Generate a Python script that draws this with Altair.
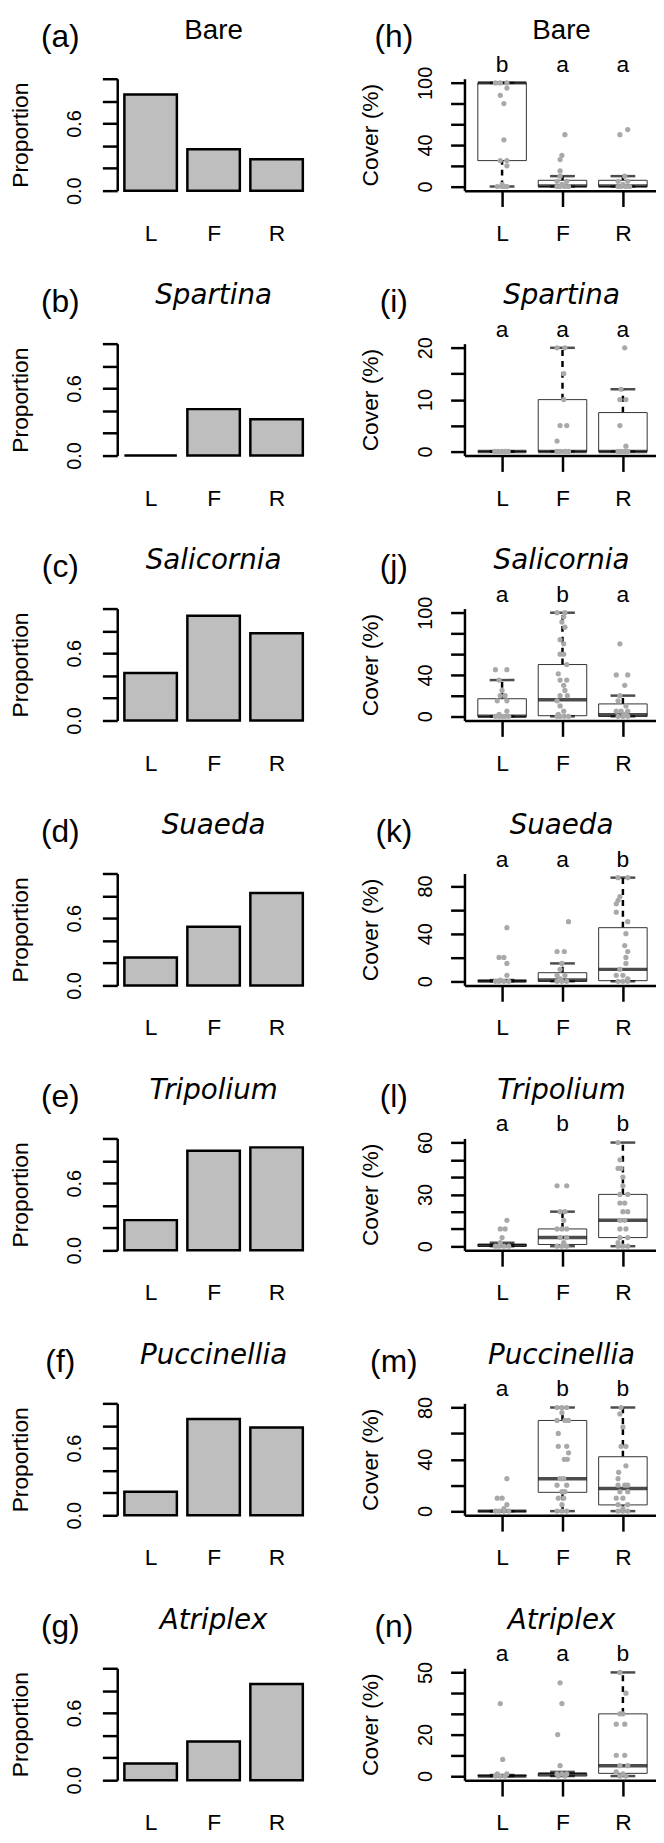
import altair as alt
import pandas as pd

groups = ["L", "F", "R"]
species = ["Bare", "Spartina", "Salicornia", "Suaeda", "Tripolium", "Puccinellia", "Atriplex"]
italic = [False, True, True, True, True, True, True]
left_tags = ["(a)", "(b)", "(c)", "(d)", "(e)", "(f)", "(g)"]
right_tags = ["(h)", "(i)", "(j)", "(k)", "(l)", "(m)", "(n)"]

# proportion of plots (left column)
prop_bare = [0.86, 0.37, 0.28]
prop_spartina = [0.0, 0.415, 0.325]
prop_salicornia = [0.425, 0.935, 0.78]
prop_suaeda = [0.25, 0.525, 0.825]
prop_tripolium = [0.27, 0.89, 0.92]
prop_puccinellia = [0.21, 0.86, 0.785]
prop_atriplex = [0.15, 0.345, 0.86]
props = [prop_bare, prop_spartina, prop_salicornia, prop_suaeda,
         prop_tripolium, prop_puccinellia, prop_atriplex]
prop_ticks = [0.0, 0.2, 0.4, 0.6, 0.8, 1.0]

# significance letters (right column)
letters = [["b", "a", "a"], ["a", "a", "a"], ["a", "b", "a"], ["a", "a", "b"],
           ["a", "b", "b"], ["a", "b", "b"], ["a", "a", "b"]]

# box statistics per group (L, F, R)
box_bare = dict(lo=[0, 0, 0], q1=[25, 0, 0], med=[100, 0.5, 0.5], q3=[100, 6, 6], hi=[100, 10, 10])
box_spartina = dict(lo=[0, 0, 0], q1=[0, 0, 0], med=[0, 0, 0], q3=[0, 10, 7.5], hi=[0, 20, 12])
box_salicornia = dict(lo=[0, 0, 0], q1=[0, 0.6, 0], med=[0, 16, 1.6], q3=[17, 50, 12], hi=[35, 100, 20])
box_suaeda = dict(lo=[0, 0, 0], q1=[0, 0, 0.5], med=[0.3, 1, 10], q3=[0.6, 7.2, 45], hi=[1, 15, 87])
box_tripolium = dict(lo=[0, 0, 0], q1=[0, 1, 5], med=[0.5, 5, 15], q3=[1, 10, 30], hi=[2, 20, 60])
box_puccinellia = dict(lo=[0, 0, 0], q1=[0, 14.5, 4.8], med=[0, 25, 17.5], q3=[0, 70, 42], hi=[0, 80, 80])
box_atriplex = dict(lo=[0, 0, 0], q1=[0, 0, 1.3], med=[0, 1, 5], q3=[0.3, 1.2, 30], hi=[0.5, 2, 50])
boxes = [box_bare, box_spartina, box_salicornia, box_suaeda,
         box_tripolium, box_puccinellia, box_atriplex]

cover_max = [100, 20, 100, 87, 60, 80, 50]
cover_ticks = [[0, 20, 40, 60, 80, 100], [0, 5, 10, 15, 20], [0, 20, 40, 60, 80, 100],
               [0, 20, 40, 60, 80], [0, 10, 20, 30, 40, 50, 60], [0, 20, 40, 60, 80],
               [0, 10, 20, 30, 40, 50]]
cover_labels = [[0, 40, 100], [0, 10, 20], [0, 40, 100], [0, 40, 80], [0, 30, 60],
                [0, 40, 80], [0, 20, 50]]

# individual plot covers: (value, jitter in group units)
pts_bare = {
    "L": [(100, -0.11), (100, -0.03), (100, 0.08), (95, 0.08), (88, -0.03), (80, 0.03), (45, 0.03),
          (25, -0.03), (25, 0.08), (20, 0.08), (2, 0.0), (0, -0.08), (0, 0.0), (0, 0.04), (0, 0.08)],
    "F": [(50, 0.04), (30, -0.01), (26, -0.04), (15, -0.04), (10, -0.04), (5, -0.09), (5, 0.07),
          (2, -0.01), (1, 0.02), (0, -0.09), (0, -0.04), (0, 0.04), (0, 0.10)],
    "R": [(55, 0.08), (50, -0.05), (10, 0.03), (5, -0.08), (5, 0.08), (2, 0.0), (0, -0.08),
          (0, -0.03), (0, 0.05), (0, 0.11)],
}
pts_spartina = {
    "L": [(0, -0.12), (0, -0.06), (0, 0.0), (0, 0.05), (0, 0.10)],
    "F": [(20, -0.09), (20, 0.04), (15, 0.02), (10, 0.02), (5, -0.04), (5, 0.07), (2, -0.09),
          (0, -0.09), (0, -0.04), (0, 0.04), (0, 0.10)],
    "R": [(20, 0.03), (12, -0.03), (10, -0.05), (10, 0.05), (5, -0.05), (1, 0.05), (0, -0.08),
          (0, -0.03), (0, 0.03), (0, 0.08)],
}
pts_salicornia = {
    "L": [(45, -0.11), (45, 0.08), (35, -0.05), (25, 0.0), (20, -0.03), (20, 0.05), (15, -0.08),
          (15, 0.08), (5, 0.08), (2, -0.05), (0, -0.11), (0, -0.05), (0, 0.0), (0, 0.05), (0, 0.11)],
    "F": [(100, -0.09), (100, 0.04), (96, 0.02), (91, -0.01), (86, 0.04), (74, -0.04), (70, 0.02),
          (60, -0.04), (60, 0.02), (50, 0.07), (41, -0.07), (35, -0.04), (35, 0.07), (30, 0.02),
          (25, 0.04), (20, -0.04), (20, 0.08), (15, -0.09), (10, -0.04), (5, 0.02), (2, -0.07),
          (0, -0.09), (0, -0.04), (0, 0.03), (0, 0.10)],
    "R": [(70, -0.05), (40, -0.11), (40, 0.08), (30, 0.03), (20, -0.05), (15, -0.08), (10, 0.05),
          (5, -0.11), (5, -0.03), (5, 0.08), (2, 0.03), (0, -0.08), (0, 0.0), (0, 0.08)],
}
pts_suaeda = {
    "L": [(45, 0.08), (20, -0.05), (20, 0.03), (15, 0.08), (5, 0.08), (1, -0.03), (0, -0.11),
          (0, -0.05), (0, 0.03), (0, 0.11)],
    "F": [(50, 0.10), (25, -0.09), (25, 0.03), (15, -0.01), (10, -0.04), (5, 0.04), (5, -0.09),
          (2, -0.04), (0, -0.09), (0, -0.01), (0, 0.07)],
    "R": [(87, -0.08), (87, 0.08), (71, -0.05), (68, -0.08), (65, -0.11), (58, -0.11), (50, 0.08),
          (40, 0.05), (30, 0.03), (25, 0.08), (20, 0.05), (15, 0.05), (10, -0.05), (5, -0.11),
          (5, 0.0), (2, 0.08), (0, -0.08), (0, 0.0), (0, 0.08)],
}
pts_tripolium = {
    "L": [(15, 0.08), (10, -0.03), (10, 0.05), (5, 0.0), (2, -0.03), (0, -0.11), (0, -0.05),
          (0, 0.03), (0, 0.11)],
    "F": [(35, -0.09), (35, 0.07), (20, -0.04), (20, 0.04), (15, 0.02), (10, -0.09), (10, -0.01),
          (10, 0.07), (5, -0.04), (5, 0.07), (2, 0.02), (0, -0.09), (0, -0.01), (0, 0.07)],
    "R": [(60, -0.08), (50, -0.05), (45, -0.08), (45, -0.03), (40, 0.0), (35, 0.0), (30, -0.05),
          (30, 0.08), (25, -0.05), (25, 0.03), (20, 0.0), (20, 0.08), (15, -0.05), (15, 0.03),
          (10, -0.05), (10, 0.05), (5, -0.05), (5, 0.08), (2, -0.08), (0, -0.08), (0, 0.0), (0, 0.08)],
}
pts_puccinellia = {
    "L": [(25, 0.08), (10, -0.08), (10, 0.0), (5, 0.08), (2, 0.03), (0, -0.11), (0, -0.05),
          (0, 0.03), (0, 0.11)],
    "F": [(80, -0.09), (80, -0.01), (80, 0.07), (76, -0.01), (70, -0.09), (70, 0.04), (70, 0.10),
          (60, -0.07), (50, -0.07), (50, 0.07), (45, 0.10), (40, 0.03), (40, 0.08), (25, -0.04),
          (25, 0.02), (20, -0.09), (20, 0.07), (15, 0.04), (15, -0.01), (10, -0.07), (10, 0.02),
          (5, -0.01), (0, -0.09), (0, -0.01), (0, 0.07)],
    "R": [(80, -0.03), (75, -0.05), (65, 0.0), (50, -0.03), (50, 0.05), (35, 0.05), (30, -0.07),
          (25, -0.08), (20, -0.08), (20, 0.03), (20, 0.08), (15, -0.05), (15, 0.08), (10, -0.11),
          (10, 0.0), (5, -0.08), (5, 0.08), (2, 0.0), (0, -0.08), (0, 0.0), (0, 0.08)],
}
pts_atriplex = {
    "L": [(35, -0.03), (8, 0.01), (1, -0.08), (1, 0.08), (0, -0.11), (0, -0.03), (0, 0.05)],
    "F": [(45, -0.04), (35, -0.01), (20, -0.08), (5, -0.04), (1, -0.09), (1, -0.01), (1, 0.07),
          (0, -0.07), (0, 0.04)],
    "R": [(50, -0.05), (40, 0.05), (30, -0.05), (30, 0.0), (25, -0.11), (25, 0.03), (10, -0.11),
          (10, 0.03), (5, -0.05), (5, 0.08), (2, -0.11), (1, 0.0), (0, -0.05), (0, 0.05)],
}
points = [pts_bare, pts_spartina, pts_salicornia, pts_suaeda,
          pts_tripolium, pts_puccinellia, pts_atriplex]

# ---------------- layout constants ----------------
LW, RW, H = 194.6, 193, 113
FONT = "Liberation Sans"
LINE = 2.5
# barplot geometry in bar units (bar width 1, gap 0.2), as in R's barplot
BAR_SPACE, BAR_W = 0.2, 1.0


def title_layer(i, xpos):
    df = pd.DataFrame({"name": [species[i]]})
    if italic[i]:
        mk = alt.Chart(df).mark_text(font="DejaVu Sans", fontSize=28, fontStyle="italic",
                                     align="center", baseline="alphabetic", color="black")
    else:
        mk = alt.Chart(df).mark_text(font=FONT, fontSize=28, align="center",
                                     baseline="alphabetic", color="black")
    return mk.encode(x=alt.value(xpos), y=alt.value(-40), text="name:N")


def tag_layer(tag, xpos):
    df = pd.DataFrame({"tag": [tag]})
    return alt.Chart(df).mark_text(font=FONT, fontSize=32, align="center", baseline="middle",
                                   color="black").encode(
        x=alt.value(xpos), y=alt.value(-42), text="tag:N")


def left_panel(i):
    k = list(range(len(groups)))
    x0 = [BAR_SPACE + (BAR_W + BAR_SPACE) * j for j in k]
    df = pd.DataFrame({"group": groups, "prop": props[i], "x0": x0,
                       "x1": [v + BAR_W for v in x0]})
    span = x0[-1] + BAR_W - BAR_SPACE
    lo = BAR_SPACE - 0.04 * span
    hi = x0[-1] + BAR_W + 0.04 * span
    centers = [v + BAR_W / 2 for v in x0]
    lab = " : ".join("datum.value < %.3f ? '%s'" % (c + 0.5, g)
                     for c, g in zip(centers[:-1], groups[:-1])) + " : '%s'" % groups[-1]
    x = alt.X("x0:Q", scale=alt.Scale(domain=[lo, hi], nice=False, zero=False),
              axis=alt.Axis(values=centers, labelExpr=lab, title=None, domain=False,
                            ticks=False, tickSize=0, labelAngle=0, labelFlush=False,
                            labelFont=FONT, labelFontSize=23, labelColor="black",
                            labelBaseline="top", labelPadding=32, labelOverlap=False))
    y = alt.Y("prop:Q", scale=alt.Scale(domain=[0, 1], nice=False, zero=False),
              axis=alt.Axis(values=prop_ticks, format=".1f", orient="left",
                            labelExpr="datum.value == 0 || datum.value == 0.6 ? datum.label : ''",
                            labelOverlap=False, labelAngle=270, labelAlign="center",
                            labelBaseline="alphabetic", labelPadding=21.6, labelFont=FONT,
                            labelFontSize=20, labelColor="black", tickSize=15, tickWidth=LINE,
                            tickColor="black", domainWidth=LINE, domainColor="black",
                            title="Proportion", titleFont=FONT, titleFontSize=23,
                            titleFontWeight="normal", titleColor="black", titleAngle=270,
                            titleAlign="center", titleBaseline="middle",
                            titleX=-98, titleY=H / 2))
    bars = alt.Chart(df).mark_bar(fill="#BEBEBE", stroke="black", strokeWidth=LINE).encode(
        x=x, x2="x1:Q", y=y, y2=alt.datum(0))
    return alt.layer(bars, title_layer(i, LW / 2), tag_layer(left_tags[i], -57.5)).properties(
        width=LW, height=H)


def right_panel(i):
    b = boxes[i]
    sdf = pd.DataFrame({"group": groups, "lo": b["lo"], "q1": b["q1"], "med": b["med"],
                        "q3": b["q3"], "hi": b["hi"], "letter": letters[i]})
    rows = []
    for g in groups:
        for v, j in points[i][g]:
            rows.append({"group": g, "value": v, "jit": j})
    pdf = pd.DataFrame(rows)
    ymax = cover_max[i]
    ys = alt.Scale(domain=[-0.04 * ymax, 1.04 * ymax], nice=False, zero=False)
    cond = " || ".join("datum.value == %s" % v for v in cover_labels[i])
    xs = alt.Scale(type="point", padding=0.582, align=0.535)
    x = alt.X("group:N", sort=groups, scale=xs,
              axis=alt.Axis(title=None, domain=True, domainWidth=LINE, domainColor="black",
                            ticks=True, tickSize=16, tickWidth=LINE, tickColor="black",
                            labelAngle=0, labelFont=FONT, labelFontSize=23, labelColor="black",
                            labelBaseline="top", labelPadding=16))
    yaxis = alt.Axis(values=cover_ticks[i], orient="left",
                     labelExpr="(" + cond + ") ? datum.label : ''",
                     labelOverlap=False, labelAngle=270, labelAlign="center",
                     labelBaseline="alphabetic", labelPadding=19.5, labelFont=FONT,
                     labelFontSize=20, labelColor="black", tickSize=14, tickWidth=LINE,
                     tickColor="black", domainWidth=LINE, domainColor="black",
                     title="Cover (%)", titleFont=FONT, titleFontSize=23,
                     titleFontWeight="normal", titleColor="black", titleAngle=270,
                     titleAlign="center", titleBaseline="middle", titleX=-95, titleY=H / 2)

    def Y(f):
        return alt.Y(f, scale=ys, axis=yaxis, title="Cover (%)")

    base = alt.Chart(sdf)
    wh_up = base.mark_rule(color="black", strokeWidth=LINE, strokeDash=[6, 5]).encode(
        x=x, y=Y("q3:Q"), y2="hi:Q")
    wh_lo = base.mark_rule(color="black", strokeWidth=LINE, strokeDash=[6, 5]).encode(
        x=x, y=Y("lo:Q"), y2="q1:Q")
    box = base.mark_bar(size=49, fill="white", stroke="#333333", strokeWidth=1).encode(
        x=x, y=Y("q1:Q"), y2="q3:Q")
    st_hi = base.mark_tick(color="black", size=25, thickness=LINE, orient="horizontal").encode(
        x=x, y=Y("hi:Q"))
    st_lo = base.mark_tick(color="black", size=25, thickness=LINE, orient="horizontal").encode(
        x=x, y=Y("lo:Q"))
    med = base.mark_tick(color="black", size=49, thickness=3.5, orient="horizontal").encode(
        x=x, y=Y("med:Q"))
    dots = alt.Chart(pdf).mark_circle(size=28, color="#A9A9A9", opacity=1).encode(
        x=x, xOffset=alt.XOffset("jit:Q", scale=alt.Scale(domain=[-1, 1], range=[-61, 61])),
        y=Y("value:Q"))
    lett = base.mark_text(font=FONT, fontSize=23, baseline="alphabetic", align="center",
                          color="black").encode(x=x, y=alt.value(-7), text="letter:N")
    return alt.layer(wh_up, wh_lo, box, st_hi, st_lo, med, dots, lett,
                     title_layer(i, 98), tag_layer(right_tags[i], -71.3)).properties(
        width=RW, height=H)


panels = []
for i in range(7):
    panels.append(left_panel(i))
    panels.append(right_panel(i))

chart = alt.concat(*panels, columns=2,
                   spacing=alt.RowColnumber(row=154.5, column=155.6),
                   bounds="flush").properties(
    padding={"left": 1.3, "top": 0.5, "right": 0, "bottom": 0}
).configure_view(strokeWidth=0).configure_axis(grid=False)

chart.save("out.html", embed_options={"renderer": "svg", "actions": False})
